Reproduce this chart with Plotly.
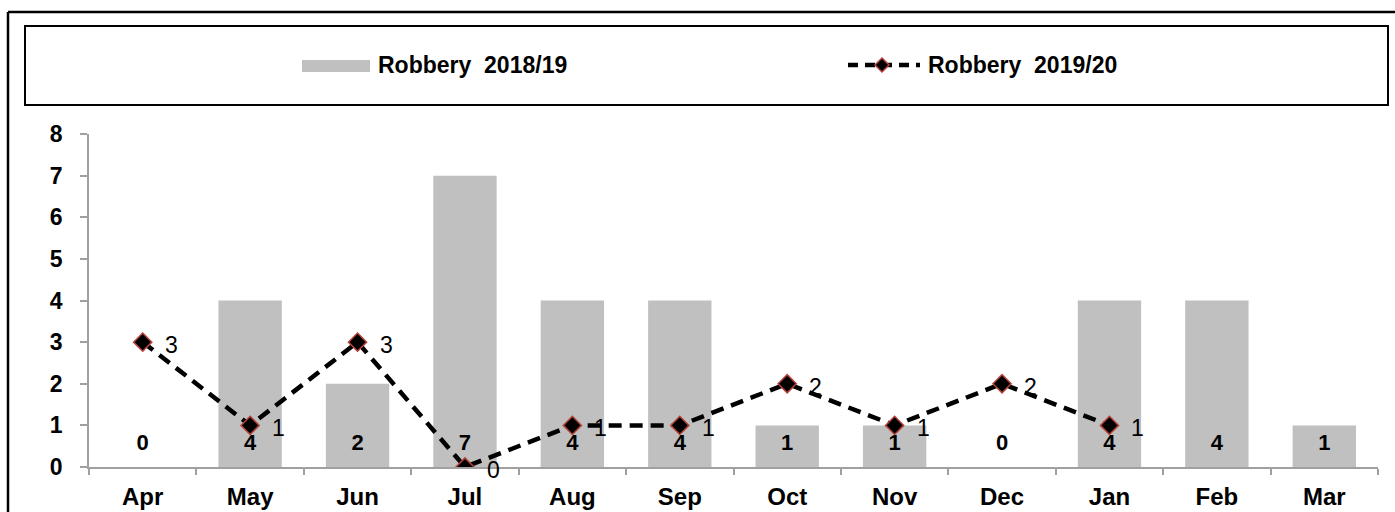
import plotly.graph_objects as go

months = ["Apr", "May", "Jun", "Jul", "Aug", "Sep", "Oct", "Nov", "Dec", "Jan", "Feb", "Mar"]
robbery_1819 = [0, 4, 2, 7, 4, 4, 1, 1, 0, 4, 4, 1]
robbery_1920 = [3, 1, 3, 0, 1, 1, 2, 1, 2, 1, None, None]
name_1819 = "Robbery  2018/19"
name_1920 = "Robbery  2019/20"
y_ticks = [0, 1, 2, 3, 4, 5, 6, 7, 8]

W, H = 1395, 512
ML, MR, MT, MB = 89, 17, 134, 45
PW, PH = W - ML - MR, H - MT - MB


def px(x):
    return (x - ML) / PW


def py(y):
    return (H - MB - y) / PH


FONT = "Liberation Sans, Arial, sans-serif"
BAR_COLOR = "#c0c0c0"
MARK_EDGE = "#b5423a"

fig = go.Figure()

fig.add_trace(go.Bar(
    x=months, y=robbery_1819, name=name_1819,
    marker=dict(color=BAR_COLOR, line=dict(width=0)),
    showlegend=False, hoverinfo="skip",
))

# bar value labels near base
fig.add_trace(go.Scatter(
    x=months, y=[0.55] * len(months), mode="text",
    text=[str(v) for v in robbery_1819],
    textfont=dict(family=FONT, size=22, color="black", weight="bold"),
    showlegend=False, hoverinfo="skip",
))

fig.add_trace(go.Scatter(
    x=months, y=robbery_1920, name=name_1920, mode="lines+markers",
    line=dict(color="black", width=4.5, dash="13px,8px"),
    marker=dict(symbol="diamond", size=14, color="black",
                line=dict(color=MARK_EDGE, width=1.5)),
    showlegend=False, connectgaps=False,
))

annotations = []
for m, v in zip(months, robbery_1920):
    if v is None:
        continue
    annotations.append(dict(
        x=m, y=v, xref="x", yref="y", text=str(v), showarrow=False,
        xanchor="left", yanchor="middle", xshift=20, yshift=-3,
        font=dict(family=FONT, size=23, color="black"),
    ))

shapes = []
# outer border (left and top edges visible)
shapes.append(dict(type="line", xref="paper", yref="paper",
                   x0=px(8), x1=px(W + 10), y0=py(12), y1=py(12),
                   line=dict(color="black", width=2.5)))
shapes.append(dict(type="line", xref="paper", yref="paper",
                   x0=px(8), x1=px(8), y0=py(12), y1=py(H + 10),
                   line=dict(color="black", width=2.5)))
# legend box
shapes.append(dict(type="rect", xref="paper", yref="paper",
                   x0=px(25), x1=px(1388), y0=py(105), y1=py(26),
                   line=dict(color="black", width=2)))
# legend: bar swatch
shapes.append(dict(type="rect", xref="paper", yref="paper",
                   x0=px(302), x1=px(370), y0=py(72), y1=py(60),
                   fillcolor=BAR_COLOR, line=dict(width=0)))
annotations.append(dict(x=px(376), y=py(65), xref="paper", yref="paper",
                        text="<b>" + name_1819 + "</b>", showarrow=False,
                        xanchor="left", yanchor="middle",
                        font=dict(family=FONT, size=23, color="black")))
# legend: dashed line with diamond
shapes.append(dict(type="line", xref="paper", yref="paper",
                   x0=px(848), x1=px(920), y0=py(65), y1=py(65),
                   line=dict(color="black", width=4.5, dash="10px,7px")))
cx, cy, r = 882, 65, 7
shapes.append(dict(type="path", xref="paper", yref="paper",
                   path=f"M {px(cx - r)},{py(cy)} L {px(cx)},{py(cy - r)} L {px(cx + r)},{py(cy)} L {px(cx)},{py(cy + r)} Z",
                   fillcolor="black", line=dict(color=MARK_EDGE, width=1.5)))
annotations.append(dict(x=px(926), y=py(65), xref="paper", yref="paper",
                        text="<b>" + name_1920 + "</b>", showarrow=False,
                        xanchor="left", yanchor="middle",
                        font=dict(family=FONT, size=23, color="black")))

fig.update_layout(
    width=W, height=H,
    margin=dict(l=ML, r=MR, t=MT, b=MB, pad=0, autoexpand=False),
    paper_bgcolor="white", plot_bgcolor="white",
    bargap=0.41,
    showlegend=False,
    shapes=shapes, annotations=annotations,
    xaxis=dict(
        type="category", range=[-0.5, 11.5], automargin=False,
        showgrid=False, zeroline=False,
        showline=True, linecolor="#a0a0a0", linewidth=1.5,
        ticks="outside", tickson="boundaries", ticklen=6, tickcolor="#a0a0a0", tickwidth=1.5,
        tickfont=dict(family=FONT, size=24, color="black", weight="bold"),
        ticklabelstandoff=7,
    ),
    yaxis=dict(
        range=[0, 8], tickvals=y_ticks, automargin=False,
        showgrid=False, zeroline=False,
        showline=True, linecolor="#a0a0a0", linewidth=1.5,
        ticks="outside", ticklen=7, tickcolor="#a0a0a0", tickwidth=1.5,
        tickfont=dict(family=FONT, size=23, color="black", weight="bold"),
        ticklabelstandoff=13,
    ),
)

fig.write_html(
    "out.html",
    config={"displayModeBar": False},
    post_script="document.body.style.margin='0';document.body.style.overflow='hidden';",
)
